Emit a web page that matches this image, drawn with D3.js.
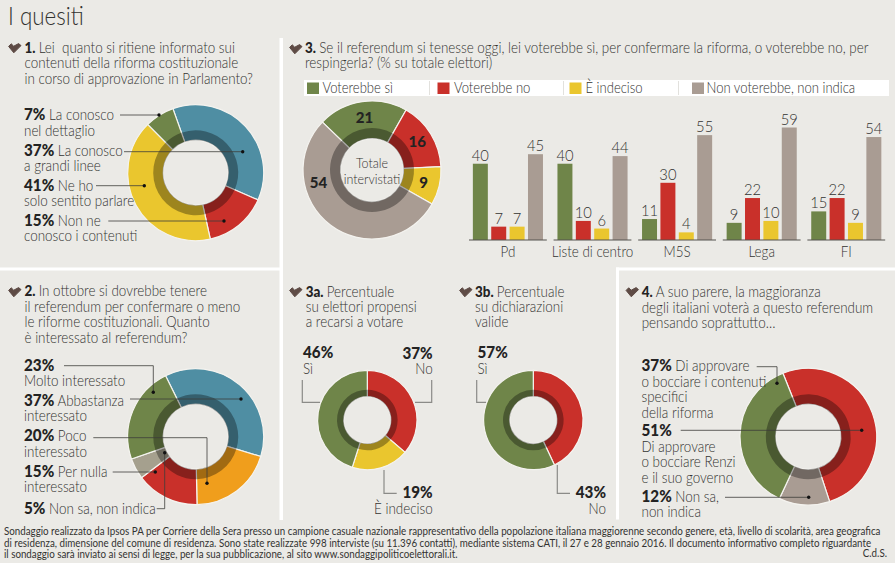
<!DOCTYPE html>
<html>
<head>
<meta charset="utf-8">
<script src="https://cdn.jsdelivr.net/npm/d3@7"></script>
<style>
  html, body { margin: 0; padding: 0; background: #ebeae6; }
  svg { display: block; }
  text { font-family: Lato, "Open Sans", sans-serif; }
</style>
</head>
<body>
<script>
// donut values
var q1Values = [37, 15, 41, 7];
var q2Values = [37, 20, 15, 5, 23];
var q3Values = [21, 16, 9, 54];
var q3aValues = [37, 19, 46];
var q3bValues = [43, 57];
var q4Values = [51, 12, 37];

// bars of question 3
var parties = ["Pd", "Liste di centro", "M5S", "Lega", "FI"];
var answers = ["Voterebbe sì", "Voterebbe no", "È indeciso", "Non voterebbe, non indica"];
var siValues = [40, 40, 11, 9, 15];
var noValues = [7, 10, 30, 22, 22];
var indecisoValues = [7, 6, 4, 10, 9];
var nonVotaValues = [45, 44, 55, 59, 54];

var footerLines = [
  "Sondaggio realizzato da Ipsos PA per Corriere della Sera presso un campione casuale nazionale rappresentativo della popolazione italiana maggiorenne secondo genere, età, livello di scolarità, area geografica",
  "di residenza, dimensione del comune di residenza. Sono state realizzate 998 interviste (su 11.396 contatti), mediante sistema CATI, il 27 e 28 gennaio 2016. Il documento informativo completo riguardante",
  "il sondaggio sarà inviato ai sensi di legge, per la sua pubblicazione, al sito www.sondaggipoliticoelettorali.it."
];

var green = "#6f8549", red = "#c9302a", yellow = "#eac62e", taupe = "#a99c93",
    blue = "#4f8ea3", orange = "#f09e1c", khaki = "#a5a08e";
var textColor = "#333331", boldColor = "#232323";
var squeeze = 0.895; // the newspaper font is narrower than anything installed

var svg = d3.select("body").append("svg").attr("width", 895).attr("height", 563);

// white panel rules
[[279.5, 38, 3.5, 482], [0, 267.5, 281, 3], [616, 267.5, 3, 252], [616, 267.5, 279, 3]].forEach(function(r) {
  svg.append("rect").attr("x", r[0]).attr("y", r[1]).attr("width", r[2]).attr("height", r[3]).attr("fill", "#fff");
});

// parts is a list of [string, bold]; every line is squeezed around its anchor
function label(x, y, parts, size, anchor, boldSize) {
  var t = svg.append("text")
    .attr("transform", "translate(" + x + "," + y + ") scale(" + squeeze + ",1)")
    .attr("text-anchor", anchor || "start")
    .attr("font-size", size)
    .attr("fill", textColor);
  parts.forEach(function(p) {
    t.append("tspan")
      .attr("font-weight", p[1] ? 900 : 300)
      .attr("font-size", p[1] ? (boldSize || size) : size)
      .attr("fill", p[1] ? boldColor : textColor)
      .text(p[0]);
  });
  return t;
}

function check(x, y) {
  svg.append("path")
    .attr("transform", "translate(" + x + "," + y + ")")
    .attr("d", "M0.6,3.4 L3.2,0.8 L5.7,3.2 L10.6,0.6 L13,2.6 L5.8,9.8 Z")
    .attr("fill", "#5e4b45").attr("stroke", "#5e4b45").attr("stroke-width", 1).attr("stroke-linejoin", "round");
}

function question(x, y, boldPart, lines, lineGap) {
  lines.forEach(function(line, i) {
    var parts = i === 0 ? [[boldPart + " ", true], [line, false]] : [[line, false]];
    label(x, y + i * lineGap, parts, 15, "start", 15);
  });
}

function donut(cx, cy, rOuter, rBand, rHole, values, colors, startDeg) {
  var start = startDeg * Math.PI / 180;
  var pie = d3.pie().sort(null).startAngle(start).endAngle(start + 2 * Math.PI);
  var slices = pie(values);
  var g = svg.append("g").attr("transform", "translate(" + cx + "," + cy + ")");
  g.selectAll("path.slice").data(slices).enter().append("path")
    .attr("class", "slice")
    .attr("d", d3.arc().innerRadius(rHole).outerRadius(rOuter))
    .attr("fill", function(d, i) { return colors[i]; })
    .attr("stroke", "#f4f3ef").attr("stroke-width", 1.2);
  g.selectAll("path.band").data(slices).enter().append("path")
    .attr("class", "band")
    .attr("d", d3.arc().innerRadius(rHole).outerRadius(rBand))
    .attr("fill", "#000").attr("fill-opacity", 0.33);
  return { g: g, slices: slices };
}

// annotation lines: pts in page pixels, optional black dot at the end
function leader(pts, dot, color) {
  svg.append("path")
    .attr("d", d3.line()(pts))
    .attr("fill", "none")
    .attr("stroke", color || "#3c3c3a").attr("stroke-width", color ? 1.2 : 0.8);
  if (dot) {
    var last = pts[pts.length - 1];
    svg.append("circle").attr("cx", last[0]).attr("cy", last[1]).attr("r", 1.7).attr("fill", "#111");
  }
}

// title
label(8, 24.5, [["I quesiti", false]], 25);

// 1
check(8, 43);
question(24.5, 52.5, "1.", ["Lei\u00a0 quanto si ritiene informato sui", "contenuti della riforma costituzionale", "in corso di approvazione in Parlamento?"], 15.5);
donut(195.7, 172.7, 68, 42.5, 32.5, q1Values, [blue, red, yellow, green], -19.6);
leader([[120, 115], [159, 115]], true);
leader([[124, 151.7], [242.7, 151.7]], true);
leader([[96, 185.7], [144.3, 185.7]], true);
leader([[108.3, 221], [224, 221]], true);
label(24, 120, [["7%", true], [" La conosco", false]], 15, "start", 17);
label(24, 135.5, [["nel dettaglio", false]], 15);
label(24, 155.5, [["37%", true], [" La conosco", false]], 15, "start", 17);
label(24, 171, [["a grandi linee", false]], 15);
label(24, 190.5, [["41%", true], [" Ne ho", false]], 15, "start", 17);
label(24, 206, [["solo sentito parlare", false]], 15);
label(24, 225.5, [["15%", true], [" Non ne", false]], 15, "start", 17);
label(24, 241, [["conosco i contenuti", false]], 15);

// 2
check(8, 287);
question(24.5, 296, "2.", ["In ottobre si dovrebbe tenere", "il referendum per confermare o meno", "le riforme costituzionali. Quanto", "è interessato al referendum?"], 15.5);
donut(195.7, 436.7, 68, 42.5, 32.5, q2Values, [blue, orange, red, khaki, green], -26.3);
leader([[64, 365.7], [153.3, 365.7], [153.3, 392.3]], true);
leader([[130, 399], [241, 399]], true);
leader([[93.3, 437.7], [207, 437.7], [207, 483.3]], true);
leader([[112.7, 472], [155.3, 472]], true);
leader([[156.7, 508.7], [164.7, 508.7], [164.7, 452.7]], true);
label(24, 370.5, [["23%", true]], 15, "start", 17);
label(24, 386, [["Molto interessato", false]], 15);
label(24, 405.5, [["37%", true], [" Abbastanza", false]], 15, "start", 17);
label(24, 421, [["interessato", false]], 15);
label(24, 441, [["20%", true], [" Poco", false]], 15, "start", 17);
label(24, 456.5, [["interessato", false]], 15);
label(24, 476.5, [["15%", true], [" Per nulla", false]], 15, "start", 17);
label(24, 492, [["interessato", false]], 15);
label(24, 513.5, [["5%", true], [" Non sa, non indica", false]], 15, "start", 17);

// 3
check(289, 44);
question(305, 53, "3.", ["Se il referendum si tenesse oggi, lei voterebbe sì, per confermare la riforma, o voterebbe no, per", "respingerla? (% su totale elettori)"], 15);

var answerColors = [green, red, yellow, taupe];
var legendSwatchX = [307, 437.5, 569.5, 692];
var legendTextX = [322.5, 454, 585.5, 706.5];
var legendRuleX = [429, 563, 678];
svg.append("rect").attr("x", 304).attr("y", 80).attr("width", 585).attr("height", 16).attr("fill", "#fff");
legendRuleX.forEach(function(x) {
  svg.append("rect").attr("x", x).attr("y", 81).attr("width", 1).attr("height", 14).attr("fill", "#e2e1dd");
});
answers.forEach(function(a, i) {
  svg.append("rect").attr("x", legendSwatchX[i]).attr("y", 82.5).attr("width", 12).attr("height", 11.5).attr("fill", answerColors[i]);
  label(legendTextX[i], 93, [[a, false]], 14.6);
});

var total = donut(372, 170, 69, 42, 31.5, q3Values, answerColors, -46);
// the 54 sits on the left of its slice, not at the middle of it
var labelArc = d3.arc().innerRadius(53).outerRadius(53);
total.g.selectAll("text.val").data(total.slices).enter().append("text")
  .attr("class", "val")
  .attr("transform", function(d, i) {
    var p = i === 3 ? [-53.5, 13] : labelArc.centroid(d);
    return "translate(" + p[0] + "," + p[1] + ")";
  })
  .attr("dy", "0.35em")
  .attr("text-anchor", "middle")
  .attr("font-size", 15).attr("font-weight", 900).attr("fill", boldColor)
  .text(function(d) { return d.data; });
label(372, 168, [["Totale", false]], 14, "middle");
label(372, 184, [["intervistati", false]], 14, "middle");

var baseline = 240;
var yBar = d3.scaleLinear().domain([0, 59]).range([baseline, baseline - 112.5]);
var xParty = d3.scaleBand().domain(parties).range([469, 885.2]).paddingInner(0.08).paddingOuter(0);
var xAnswer = d3.scaleBand().domain(answers).range([0, xParty.bandwidth()]).paddingInner(0.185).paddingOuter(0.21);
var barSeries = [siValues, noValues, indecisoValues, nonVotaValues];

parties.forEach(function(party, p) {
  var x0 = xParty(party);
  barSeries.forEach(function(series, s) {
    var x = x0 + xAnswer(answers[s]);
    svg.append("rect")
      .attr("x", x).attr("y", yBar(series[p]))
      .attr("width", xAnswer.bandwidth()).attr("height", baseline - yBar(series[p]))
      .attr("fill", answerColors[s]);
    label(x + xAnswer.bandwidth() / 2, yBar(series[p]) - 3, [[String(series[p]), false]], 16.5, "middle");
  });
  svg.append("line").attr("x1", x0).attr("x2", x0 + xParty.bandwidth())
    .attr("y1", baseline).attr("y2", baseline).attr("stroke", "#55534f").attr("stroke-width", 1);
  label(x0 + xParty.bandwidth() / 2, 257, [[party, false]], 15, "middle");
});

// 3a
check(289, 287);
question(305.7, 297, "3a.", ["Percentuale", "su elettori propensi", "a recarsi a votare"], 15);
donut(367.3, 420, 49.7, 30.3, 23.5, q3aValues, [red, yellow, green], 0);
leader([[302.3, 380], [302.3, 402.3], [320, 402.3]], false, "#8b8b88");
leader([[431.7, 380], [431.7, 402.3], [415, 402.3]], false, "#8b8b88");
leader([[384, 470], [384, 493.3], [396.7, 493.3]], false, "#8b8b88");
label(303, 358, [["46%", true]], 15, "start", 17);
label(303, 373.5, [["Sì", false]], 15);
label(432.7, 358.5, [["37%", true]], 15, "end", 17);
label(432.7, 374, [["No", false]], 15, "end");
label(432.7, 498, [["19%", true]], 15, "end", 17);
label(432.7, 513.5, [["È indeciso", false]], 15, "end");

// 3b
check(459, 287);
question(475, 297, "3b.", ["Percentuale", "su dichiarazioni", "valide"], 15);
donut(533.3, 420, 49.7, 30.3, 23.5, q3bValues, [red, green], 0);
leader([[476.7, 380], [476.7, 402.3], [486, 402.3]], false, "#8b8b88");
leader([[557.3, 465], [557.3, 493.3], [570, 493.3]], false, "#8b8b88");
label(477.5, 358, [["57%", true]], 15, "start", 17);
label(477.5, 373.5, [["Sì", false]], 15);
label(606, 498, [["43%", true]], 15, "end", 17);
label(606, 513.5, [["No", false]], 15, "end");

// 4
check(625.5, 287);
question(641.7, 297, "4.", ["A suo parere, la maggioranza", "degli italiani voterà a questo referendum", "pensando soprattutto…"], 15.5);
donut(808.3, 436.7, 68.3, 42.5, 32.5, q4Values, [red, taupe, green], -21.8);
leader([[756.7, 366.7], [777, 366.7], [777, 383.3]], true);
leader([[680.7, 430.3], [861.7, 430.3]], true);
leader([[725, 497.3], [808.7, 497.3]], true);
label(641.5, 371, [["37%", true], [" Di approvare", false]], 15, "start", 17);
label(641.5, 386.5, [["o bocciare i contenuti", false]], 15);
label(641.5, 402, [["specifici", false]], 15);
label(641.5, 417.5, [["della riforma", false]], 15);
label(641.5, 436, [["51%", true]], 15, "start", 17);
label(641.5, 451.5, [["Di approvare", false]], 15);
label(641.5, 467, [["o bocciare Renzi", false]], 15);
label(641.5, 482.5, [["e il suo governo", false]], 15);
label(641.5, 502, [["12%", true], [" Non sa,", false]], 15, "start", 17);
label(641.5, 517, [["non indica", false]], 15);

// footer
footerLines.forEach(function(line, i) {
  label(4, 535 + i * 11.7, [[line, false]], 10.93).selectAll("tspan").attr("font-weight", 400);
});
label(887, 556.5, [["C.d.S.", false]], 10.93, "end").selectAll("tspan").attr("font-weight", 400);
</script>
</body>
</html>
